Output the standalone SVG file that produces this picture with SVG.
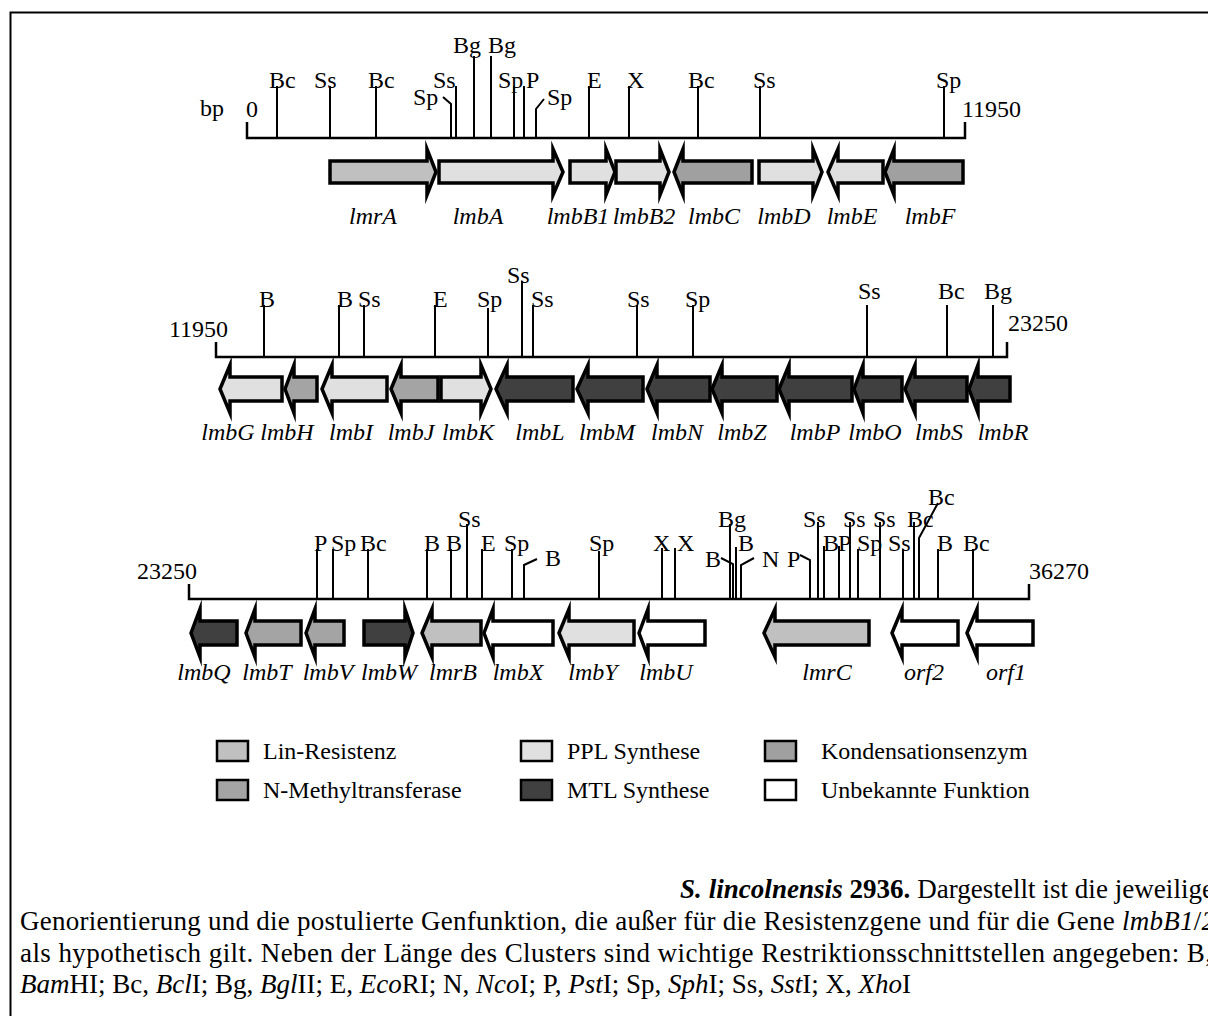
<svg xmlns="http://www.w3.org/2000/svg" width="1208" height="1016" viewBox="0 0 1208 1016">
<style>
text{font-family:"Liberation Serif","Times New Roman",serif;font-size:24px;fill:#000}
.gl{font-style:italic;text-anchor:middle}
.ax{stroke:#000;stroke-width:2.5;fill:none}
.st{stroke:#000;stroke-width:2;fill:none}
.g{stroke:#000;stroke-width:3.5;stroke-linejoin:miter;stroke-miterlimit:10}
.res{fill:#c0c0c0}.ppl{fill:#e0e0e0}.kon{fill:#a0a0a0}.nmt{fill:#a4a4a4}.mtl{fill:#404040}.unk{fill:#ffffff}
.lb{stroke:#000;stroke-width:2.5}
.cap{font-size:27px}
</style>
<rect width="1208" height="1016" fill="#fff"/>
<g id="frame" class="st"><path d="M10.5 1016 V12.5 H1208" stroke-width="2"/></g>

<g id="connectors">
  <!-- Row 1 -->
  <path class="ax" d="M247 122 V138 H965 V122"/>
  <path class="st" d="M277 138V86 M330 138V86 M376 138V86 M451 138V104 L443 97 M456 138V86 M474 138V56 M491 138V56 M514 138V86 M524 138V86 M536 138V109 L544 99 M589 138V86 M629 138V86 M698 138V86 M760 138V86 M944 138V86"/>
  <!-- Row 2 -->
  <path class="ax" d="M216 342 V357 H1007 V342"/>
  <path class="st" d="M264 357V305 M339 357V305 M364 357V305 M435 357V305 M488 357V308 M522 357V281 M533 357V305 M637 357V305 M693 357V305 M867 357V305 M947 357V305 M993 357V305"/>
  <!-- Row 3 -->
  <path class="ax" d="M189 584 V599 H1029 V584"/>
  <path class="st" d="M317 599V549 M333 599V549 M368 599V549 M427 599V549 M451 599V549 M467 599V524 M482 599V549 M512 599V549 M524 599V565 L537 559 M599 599V551 M662 599V548 M675 599V548 M730 599V524 M733 599V564 L721 558 M736 599V547 M741 599V565 L754 558 M810 599V560 L800 555 M818 599V522 M824 599V546 M839 599V546 M850 599V522 M858 599V549 M880 599V522 M903 599V549 M914 599V522 M919 599V538 L938 503 M938 599V549 M973 599V549"/>
</g>

<g id="scale-labels">
  <text x="200" y="116">bp</text>
  <text x="246" y="117">0</text>
  <text x="962" y="117">11950</text>
  <text x="169" y="337">11950</text>
  <text x="1008" y="331">23250</text>
  <text x="137" y="579">23250</text>
  <text x="1029" y="579">36270</text>
</g>

<g id="site-labels">
  <text x="269" y="88">Bc</text><text x="314" y="88">Ss</text><text x="368" y="88">Bc</text>
  <text x="413" y="105">Sp</text><text x="433" y="88">Ss</text>
  <text x="453" y="53">Bg</text><text x="488" y="53">Bg</text>
  <text x="498" y="88">Sp</text><text x="526" y="88">P</text><text x="547" y="105">Sp</text>
  <text x="587" y="88">E</text><text x="627" y="88">X</text><text x="688" y="88">Bc</text>
  <text x="753" y="88">Ss</text><text x="936" y="88">Sp</text>

  <text x="259" y="307">B</text><text x="337" y="307">B</text><text x="358" y="307">Ss</text>
  <text x="433" y="307">E</text><text x="477" y="307">Sp</text><text x="507" y="283">Ss</text>
  <text x="531" y="307">Ss</text><text x="627" y="307">Ss</text><text x="685" y="307">Sp</text>
  <text x="858" y="299">Ss</text><text x="938" y="299">Bc</text><text x="984" y="299">Bg</text>

  <text x="314" y="551">P</text><text x="331" y="551">Sp</text><text x="360" y="551">Bc</text>
  <text x="424" y="551">B</text><text x="446" y="551">B</text><text x="458" y="527">Ss</text>
  <text x="481" y="551">E</text><text x="504" y="551">Sp</text><text x="545" y="566">B</text>
  <text x="589" y="551">Sp</text><text x="653" y="551">X</text><text x="677" y="551">X</text>
  <text x="718" y="527">Bg</text><text x="705" y="567">B</text><text x="738" y="551">B</text>
  <text x="762" y="567">N</text><text x="787" y="567">P</text>
  <text x="803" y="527">Ss</text><text x="823" y="551">B</text><text x="838" y="551">P</text>
  <text x="843" y="527">Ss</text><text x="857" y="551">Sp</text><text x="873" y="527">Ss</text>
  <text x="888" y="551">Ss</text><text x="907" y="527">Bc</text><text x="928" y="505">Bc</text>
  <text x="937" y="551">B</text><text x="963" y="551">Bc</text>
</g>

<!-- Row 1 genes -->
<g id="lmrA"><polygon class="g res" points="330,161 427,161 427,149 436,172 427,195 427,183 330,183"/><text class="gl" x="373" y="224">lmrA</text></g>
<g id="lmbA"><polygon class="g ppl" points="439,161 553,161 553,149 563,172 553,195 553,183 439,183"/><text class="gl" x="478" y="224">lmbA</text></g>
<g id="lmbB1"><polygon class="g ppl" points="570,161 606,161 606,149 615,172 606,195 606,183 570,183"/><text class="gl" x="578" y="224">lmbB1</text></g>
<g id="lmbB2"><polygon class="g ppl" points="616,161 660,161 660,149 669,172 660,195 660,183 616,183"/><text class="gl" x="644" y="224">lmbB2</text></g>
<g id="lmbC"><polygon class="g kon" points="674,172 683,149 683,161 752,161 752,183 683,183 683,195"/><text class="gl" x="714" y="224">lmbC</text></g>
<g id="lmbD"><polygon class="g ppl" points="759,161 813,161 813,149 822,172 813,195 813,183 759,183"/><text class="gl" x="784" y="224">lmbD</text></g>
<g id="lmbE"><polygon class="g ppl" points="828,172 838,149 838,161 883,161 883,183 838,183 838,195"/><text class="gl" x="852" y="224">lmbE</text></g>
<g id="lmbF"><polygon class="g kon" points="885,172 894,149 894,161 963,161 963,183 894,183 894,195"/><text class="gl" x="930" y="224">lmbF</text></g>

<!-- Row 2 genes -->
<g id="lmbG"><polygon class="g ppl" points="220,389 230,365 230,377 282,377 282,401 230,401 230,413"/><text class="gl" x="228" y="440">lmbG</text></g>
<g id="lmbH"><polygon class="g nmt" points="285,389 294,365 294,377 317,377 317,401 294,401 294,413"/><text class="gl" x="287" y="440">lmbH</text></g>
<g id="lmbI"><polygon class="g ppl" points="322,389 332,365 332,377 387,377 387,401 332,401 332,413"/><text class="gl" x="351" y="440">lmbI</text></g>
<g id="lmbJ"><polygon class="g nmt" points="391,389 401,365 401,377 438,377 438,401 401,401 401,413"/><text class="gl" x="411" y="440">lmbJ</text></g>
<g id="lmbK"><polygon class="g ppl" points="441,377 481,377 481,365 491,389 481,413 481,401 441,401"/><text class="gl" x="468" y="440">lmbK</text></g>
<g id="lmbL"><polygon class="g mtl" points="496,389 507,365 507,377 573,377 573,401 507,401 507,413"/><text class="gl" x="540" y="440">lmbL</text></g>
<g id="lmbM"><polygon class="g mtl" points="577,389 588,365 588,377 643,377 643,401 588,401 588,413"/><text class="gl" x="607" y="440">lmbM</text></g>
<g id="lmbN"><polygon class="g mtl" points="647,389 657,365 657,377 710,377 710,401 657,401 657,413"/><text class="gl" x="677" y="440">lmbN</text></g>
<g id="lmbZ"><polygon class="g mtl" points="712,389 722,365 722,377 777,377 777,401 722,401 722,413"/><text class="gl" x="742" y="440">lmbZ</text></g>
<g id="lmbP"><polygon class="g mtl" points="779,389 789,365 789,377 852,377 852,401 789,401 789,413"/><text class="gl" x="815" y="440">lmbP</text></g>
<g id="lmbO"><polygon class="g mtl" points="854,389 863,365 863,377 902,377 902,401 863,401 863,413"/><text class="gl" x="875" y="440">lmbO</text></g>
<g id="lmbS"><polygon class="g mtl" points="905,389 915,365 915,377 967,377 967,401 915,401 915,413"/><text class="gl" x="939" y="440">lmbS</text></g>
<g id="lmbR"><polygon class="g mtl" points="969,389 978,365 978,377 1010,377 1010,401 978,401 978,413"/><text class="gl" x="1003" y="440">lmbR</text></g>

<!-- Row 3 genes -->
<g id="lmbQ"><polygon class="g mtl" points="191,633 200,609 200,621 237,621 237,645 200,645 200,657"/><text class="gl" x="204" y="680">lmbQ</text></g>
<g id="lmbT"><polygon class="g nmt" points="246,633 255,609 255,621 301,621 301,645 255,645 255,657"/><text class="gl" x="267" y="680">lmbT</text></g>
<g id="lmbV"><polygon class="g nmt" points="306,633 315,609 315,621 344,621 344,645 315,645 315,657"/><text class="gl" x="328" y="680">lmbV</text></g>
<g id="lmbW"><polygon class="g mtl" points="364,621 405,621 405,609 413,633 405,657 405,645 364,645"/><text class="gl" x="389" y="680">lmbW</text></g>
<g id="lmrB"><polygon class="g res" points="422,633 432,609 432,621 481,621 481,645 432,645 432,657"/><text class="gl" x="453" y="680">lmrB</text></g>
<g id="lmbX"><polygon class="g unk" points="484,633 493,609 493,621 553,621 553,645 493,645 493,657"/><text class="gl" x="518" y="680">lmbX</text></g>
<g id="lmbY"><polygon class="g ppl" points="559,633 569,609 569,621 634,621 634,645 569,645 569,657"/><text class="gl" x="593" y="680">lmbY</text></g>
<g id="lmbU"><polygon class="g unk" points="639,633 648,609 648,621 705,621 705,645 648,645 648,657"/><text class="gl" x="666" y="680">lmbU</text></g>
<g id="lmrC"><polygon class="g res" points="764,633 775,609 775,621 869,621 869,645 775,645 775,657"/><text class="gl" x="827" y="680">lmrC</text></g>
<g id="orf2"><polygon class="g unk" points="892,633 902,609 902,621 958,621 958,645 902,645 902,657"/><text class="gl" x="924" y="680">orf2</text></g>
<g id="orf1"><polygon class="g unk" points="967,633 977,609 977,621 1033,621 1033,645 977,645 977,657"/><text class="gl" x="1006" y="680">orf1</text></g>

<g id="legend">
  <rect class="lb res" x="217" y="741" width="31" height="20"/><text x="263" y="759">Lin-Resistenz</text>
  <rect class="lb ppl" x="521" y="741" width="31" height="20"/><text x="567" y="759">PPL Synthese</text>
  <rect class="lb kon" x="765" y="741" width="31" height="20"/><text x="821" y="759">Kondensationsenzym</text>
  <rect class="lb nmt" x="217" y="780" width="31" height="20"/><text x="263" y="798">N-Methyltransferase</text>
  <rect class="lb mtl" x="521" y="780" width="31" height="20"/><text x="567" y="798">MTL Synthese</text>
  <rect class="lb unk" x="765" y="780" width="31" height="20"/><text x="821" y="798">Unbekannte Funktion</text>
</g>

<g id="caption">
  <text class="cap" x="680" y="898" textLength="534" lengthAdjust="spacing"><tspan font-weight="bold" font-style="italic">S. lincolnensis</tspan><tspan font-weight="bold"> 2936.</tspan> Dargestellt ist die jeweilige</text>
  <text class="cap" x="20" y="930" textLength="1195" lengthAdjust="spacing">Genorientierung und die postulierte Genfunktion, die außer für die Resistenzgene und für die Gene <tspan font-style="italic">lmbB1</tspan>/<tspan font-style="italic">2</tspan></text>
  <text class="cap" x="20" y="962" textLength="1192" lengthAdjust="spacing">als hypothetisch gilt. Neben der Länge des Clusters sind wichtige Restriktionsschnittstellen angegeben: B,</text>
  <text class="cap" x="20" y="993"><tspan font-style="italic">Bam</tspan>HI; Bc, <tspan font-style="italic">Bcl</tspan>I; Bg, <tspan font-style="italic">Bgl</tspan>II; E, <tspan font-style="italic">Eco</tspan>RI; N, <tspan font-style="italic">Nco</tspan>I; P, <tspan font-style="italic">Pst</tspan>I; Sp, <tspan font-style="italic">Sph</tspan>I; Ss, <tspan font-style="italic">Sst</tspan>I; X, <tspan font-style="italic">Xho</tspan>I</text>
</g>
</svg>
